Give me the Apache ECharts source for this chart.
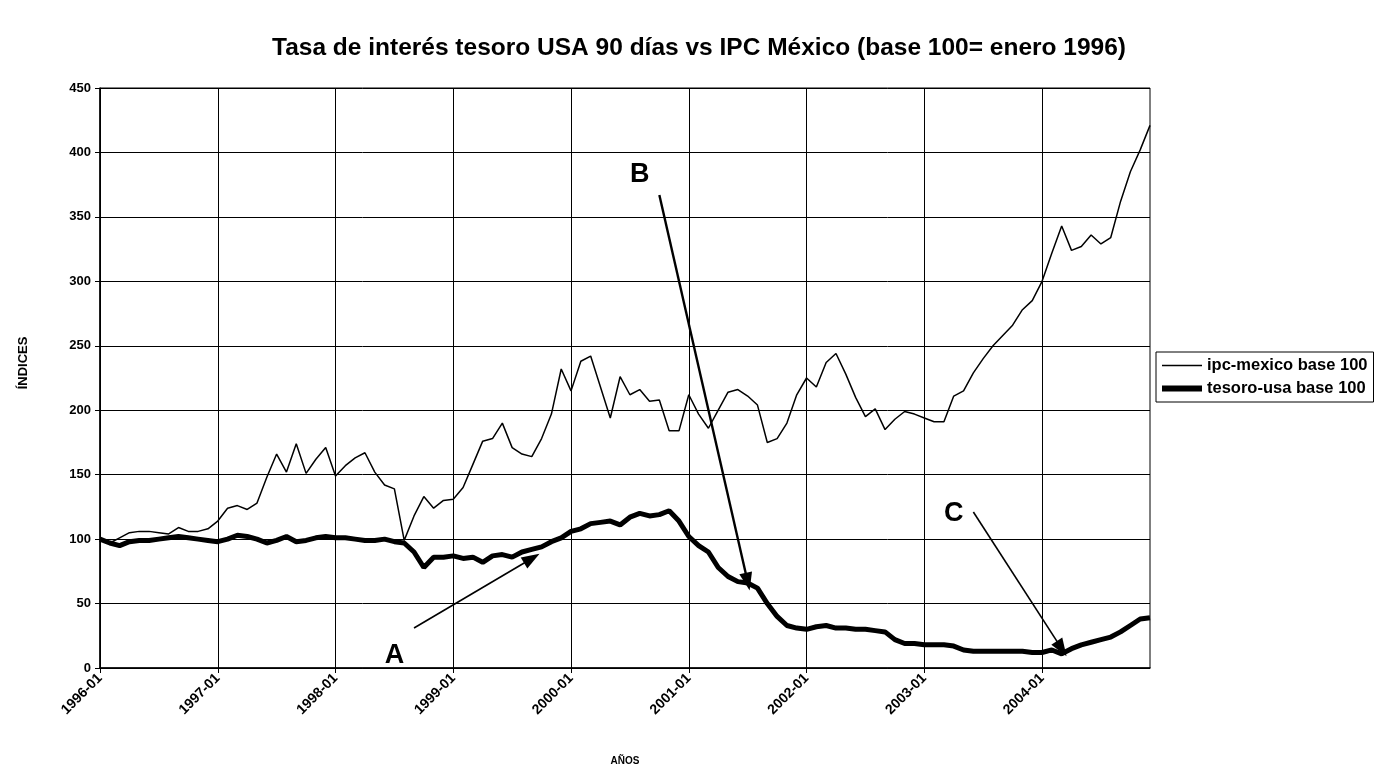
<!DOCTYPE html>
<html>
<head>
<meta charset="utf-8">
<script src="https://cdn.jsdelivr.net/npm/echarts@6/dist/echarts.min.js"></script>
<style>
html, body { margin: 0; padding: 0; background: #fff; }
#main { width: 1398px; height: 772px; }
</style>
</head>
<body>
<div id="main"></div>
<script>
// años del eje x (meses 1996-01 .. 2004-12)
var years = [1996, 1997, 1998, 1999, 2000, 2001, 2002, 2003, 2004];
var months = [];
for (var y = 0; y < years.length; y++) {
	for (var m = 1; m <= 12; m++) {
		months.push(years[y] + '-' + (m < 10 ? '0' + m : m));
	}
}

// ipc-mexico base 100
var ipc = [
	100, 97, 101, 105, 106, 106, 105, 104, 109, 106, 106, 108,
	114, 124, 126, 123, 128, 148, 166, 152, 174, 151, 162, 171,
	149, 157, 163, 167, 152, 142, 139, 99, 118, 133, 124, 130,
	131, 140, 158, 176, 178, 190, 171, 166, 164, 178, 197, 232,
	215, 238, 242, 218, 194, 226, 212, 216, 207, 208, 184, 184,
	212, 197, 186, 200, 214, 216, 211, 204, 175, 178, 190, 212,
	225, 218, 237, 244, 228, 210, 195, 201, 185, 193, 199, 197,
	194, 191, 191, 211, 215, 229, 240, 250, 258, 266, 278, 285,
	300, 322, 343, 324, 327, 336, 329, 334, 362, 385, 402, 421
];

// tesoro-usa base 100
var tesoro = [
	100, 97, 95, 98, 99, 99, 100, 101, 102, 101, 100, 99,
	98, 100, 103, 102, 100, 97, 99, 102, 98, 99, 101, 102,
	101, 101, 100, 99, 99, 100, 98, 97, 90, 78, 86, 86,
	87, 85, 86, 82, 87, 88, 86, 90, 92, 94, 98, 101,
	106, 108, 112, 113, 114, 111, 117, 120, 118, 119, 122, 114,
	102, 95, 90, 78, 71, 67, 66, 62, 50, 40, 33, 31,
	30, 32, 33, 31, 31, 30, 30, 29, 28, 22, 19, 19,
	18, 18, 18, 17, 14, 13, 13, 13, 13, 13, 13, 12,
	12, 14, 11, 15, 18, 20, 22, 24, 28, 33, 38, 39
];

var yTicks = [0, 50, 100, 150, 200, 250, 300, 350, 400, 450];

// flechas A, B, C  [indice mes, valor]
var arrowA = [[32, 31], [44, 85]];
var arrowB = [[57, 367], [66, 67]];
var arrowC = [[88.5, 121], [98, 15]];
var letters = [
	{ name: 'A', coord: [30.3, 10] },
	{ name: 'B', coord: [55.3, 383] },
	{ name: 'C', coord: [87, 119.5] }
];

var font = '"Liberation Sans", Arial, sans-serif';
var yearTick = function(i) { return i % 12 === 0; };

var myChart = echarts.init(document.getElementById('main'));
myChart.setOption({
	animation: false,
	backgroundColor: '#fff',
	title: {
		text: 'Tasa de interés tesoro USA 90 días vs IPC México (base 100= enero 1996)',
		left: 'center',
		top: 31,
		textStyle: { fontFamily: font, fontSize: 24.5, fontWeight: 'bold', color: '#000' }
	},
	legend: {
		orient: 'vertical',
		left: 1156,
		top: 352,
		itemWidth: 40,
		itemHeight: 12,
		itemGap: 6,
		padding: [5, 6, 5, 3],
		borderColor: '#000',
		borderWidth: 1,
		itemStyle: { opacity: 0 },
		textStyle: { fontFamily: font, fontSize: 16.5, fontWeight: 'bold', color: '#000' },
		data: [
			{ name: 'ipc-mexico base 100', lineStyle: { width: 1.5 } },
			{ name: 'tesoro-usa base 100', lineStyle: { width: 6 } }
		]
	},
	grid: {
		left: 100, right: 248, top: 88, bottom: 104,
		show: true, borderColor: '#000', borderWidth: 1
	},
	xAxis: {
		type: 'category',
		data: months,
		boundaryGap: false,
		name: 'AÑOS',
		nameLocation: 'middle',
		nameGap: 88,
		nameTextStyle: { fontFamily: font, fontSize: 10, fontWeight: 'bold', color: '#000' },
		axisLine: { lineStyle: { color: '#000', width: 1.5 } },
		axisTick: { interval: yearTick, length: 5, lineStyle: { color: '#000' } },
		axisLabel: {
			interval: yearTick, rotate: 45, margin: 8,
			fontFamily: font, fontSize: 14, fontWeight: 'bold', color: '#000'
		},
		splitLine: { show: true, interval: yearTick, lineStyle: { color: '#000', width: 1 } }
	},
	yAxis: {
		type: 'value',
		min: yTicks[0],
		max: yTicks[yTicks.length - 1],
		interval: 50,
		name: 'ÍNDICES',
		nameLocation: 'middle',
		nameGap: 70,
		nameTextStyle: { fontFamily: font, fontSize: 13, fontWeight: 'bold', color: '#000', padding: [0, 0, 0, 30] },
		axisLine: { show: true, lineStyle: { color: '#000', width: 1.5 } },
		axisTick: { show: true, length: 5, lineStyle: { color: '#000' } },
		axisLabel: { margin: 9, fontFamily: font, fontSize: 13, fontWeight: 'bold', color: '#000' },
		splitLine: { lineStyle: { color: '#000', width: 1 } }
	},
	series: [
		{
			name: 'ipc-mexico base 100',
			type: 'line',
			data: ipc,
			symbol: 'none',
			lineStyle: { color: '#000', width: 1.5 },
			itemStyle: { color: '#000' },
			z: 3,
			markLine: {
				silent: true,
				symbol: ['none', 'triangle'],
				symbolSize: [13, 18],
				label: { show: false },
				lineStyle: { color: '#000', width: 1.6, type: 'solid' },
				data: [
					[{ coord: arrowA[0] }, { coord: arrowA[1] }],
					[{ coord: arrowB[0], lineStyle: { width: 2.4 } }, { coord: arrowB[1] }],
					[{ coord: arrowC[0] }, { coord: arrowC[1] }]
				]
			},
			markPoint: {
				silent: true,
				symbol: 'rect',
				symbolSize: 1,
				itemStyle: { color: 'rgba(0,0,0,0)' },
				label: {
					show: true, position: 'inside', formatter: '{b}',
					fontFamily: font, fontSize: 27, fontWeight: 'bold', color: '#000'
				},
				data: letters
			}
		},
		{
			name: 'tesoro-usa base 100',
			type: 'line',
			data: tesoro,
			symbol: 'none',
			lineStyle: { color: '#000', width: 5 },
			itemStyle: { color: '#000' },
			z: 4
		}
	]
});
</script>
</body>
</html>
